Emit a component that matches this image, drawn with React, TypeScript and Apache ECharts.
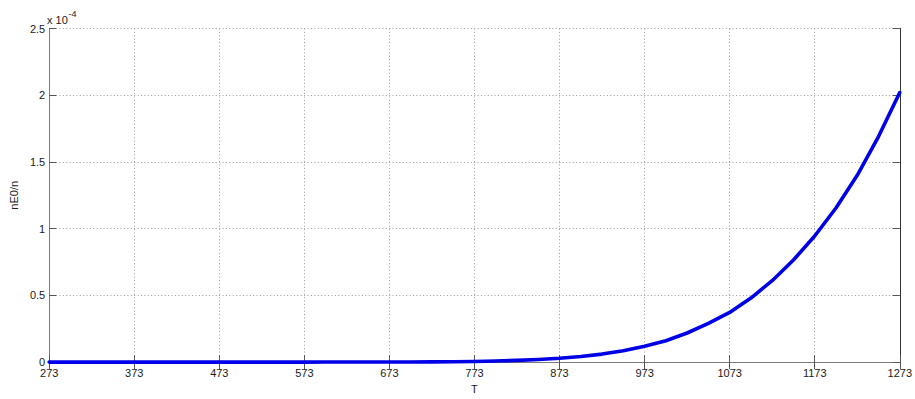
import React, { useEffect, useRef } from "react";
import * as echarts from "echarts";

// Temperature T (K), sampled every 25 K
const temperatures: string[] = [
  "273", "298", "323", "348", "373", "398", "423", "448", "473", "498", "523",
  "548", "573", "598", "623", "648", "673", "698", "723", "748", "773",
  "798", "823", "848", "873", "898", "923", "948", "973", "998", "1023",
  "1048", "1073", "1098", "1123", "1148", "1173", "1198", "1223", "1248", "1273",
];

// nE0/n in units of 1e-4
const nE0PerN: number[] = [
  0, 0, 0, 0, 0, 0, 0, 0, 0, 0, 0,
  0, 0.0001, 0.0002, 0.0003, 0.0005, 0.0008, 0.0013, 0.002, 0.003, 0.005,
  0.008, 0.013, 0.02, 0.029, 0.042, 0.06, 0.085, 0.118, 0.16, 0.218,
  0.29, 0.372, 0.48, 0.61, 0.765, 0.945, 1.155, 1.4, 1.69, 2.02,
];

const yMin = 0;
const yMax = 2.5;
const yStep = 0.5;
const scaleText = "x 10";
const scaleExp = "-4";
const xName = "T";
const yName = "nE0/n";

const FONT = "'Liberation Sans', Arial, Helvetica, sans-serif";

export default function App() {
  const ref = useRef<HTMLDivElement>(null);
  useEffect(() => {
    if (!ref.current) return;
    const chart = echarts.init(ref.current, undefined, { renderer: "svg" });
    const axisGray = "#7a7a7a";
    const tickColor = "#555";
    const gridLine = { show: true, lineStyle: { color: "#9a9a9a", width: 1, type: [1, 2.4] as any } };
    chart.setOption({
      animation: false,
      backgroundColor: "#ffffff",
      textStyle: { fontFamily: FONT },
      grid: { left: 47, right: 12, top: 28.5, bottom: 27.5, containLabel: false },
      xAxis: [
        {
          type: "category",
          data: temperatures,
          boundaryGap: false,
          position: "bottom",
          name: xName,
          nameLocation: "middle",
          nameGap: 17,
          nameTextStyle: { fontSize: 11, color: "#1a1a1a", fontFamily: FONT },
          axisLine: { show: true, lineStyle: { color: axisGray, width: 1 } },
          axisTick: { show: true, inside: true, length: 7, interval: 3, lineStyle: { color: tickColor } },
          axisLabel: { interval: 3, fontSize: 11, color: "#1a1a1a", margin: 5, fontFamily: FONT },
          splitLine: { ...gridLine, interval: 3 },
        },
        {
          type: "category",
          data: temperatures,
          boundaryGap: false,
          position: "top",
          axisLine: { show: true, lineStyle: { color: axisGray, width: 1 } },
          axisTick: { show: true, inside: true, length: 7, interval: 3, lineStyle: { color: tickColor } },
          axisLabel: { show: false },
          splitLine: { show: false },
        },
      ],
      yAxis: [
        {
          type: "value",
          min: yMin,
          max: yMax,
          interval: yStep,
          position: "left",
          name: yName,
          nameLocation: "middle",
          nameGap: 30,
          nameTextStyle: { fontSize: 11, color: "#1a1a1a", fontFamily: FONT },
          axisLine: { show: true, lineStyle: { color: axisGray, width: 1 } },
          axisTick: { show: true, inside: true, length: 7, lineStyle: { color: tickColor } },
          axisLabel: { fontSize: 11, color: "#1a1a1a", margin: 4, fontFamily: FONT, formatter: (v: number) => String(v) },
          splitLine: gridLine,
        },
        {
          type: "value",
          min: yMin,
          max: yMax,
          interval: yStep,
          position: "right",
          axisLine: { show: true, lineStyle: { color: "#333", width: 1 } },
          axisTick: { show: true, inside: true, length: 7, lineStyle: { color: tickColor } },
          axisLabel: { show: false },
          splitLine: { show: false },
        },
      ],
      graphic: [
        {
          type: "text",
          left: 47,
          top: 14,
          style: { text: scaleText, fontSize: 11, fill: "#1a1a1a", fontFamily: FONT },
        },
        {
          type: "text",
          left: 68.5,
          top: 9,
          style: { text: scaleExp, fontSize: 9, fill: "#1a1a1a", fontFamily: FONT },
        },
      ],
      series: [
        {
          type: "line",
          data: nE0PerN,
          xAxisIndex: 0,
          yAxisIndex: 0,
          showSymbol: false,
          symbol: "none",
          smooth: false,
          clip: false,
          lineStyle: { color: "#0000e6", width: 3.6, join: "round", cap: "round" },
          z: 5,
        },
      ],
    });
    return () => chart.dispose();
  }, []);
  return (
    <div
      ref={ref}
      style={{ position: "fixed", left: 0, top: 0, width: 915, height: 399, background: "#fff" }}
    />
  );
}
